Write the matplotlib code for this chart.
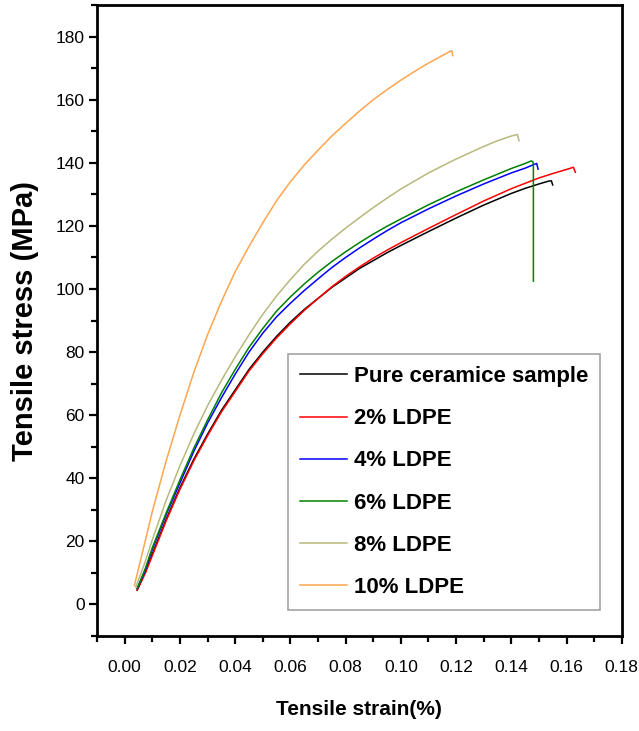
import matplotlib
matplotlib.use("Agg")
import matplotlib.pyplot as plt
from matplotlib.ticker import MultipleLocator

# %% data (strain, stress)
pure_x = [0.0045, 0.0075, 0.01, 0.015, 0.02, 0.025, 0.03, 0.035, 0.04, 0.045, 0.05, 0.055, 0.06, 0.065,
          0.07, 0.075, 0.08, 0.085, 0.09, 0.095, 0.10, 0.11, 0.12, 0.13, 0.14, 0.145, 0.15, 0.1535, 0.1545, 0.155]
pure_y = [4.5, 10.5, 16, 27, 37, 46, 54, 61.5, 68, 74.5, 80, 85, 89.5, 93.5,
          97, 100.5, 103.5, 106.5, 109, 111.5, 113.8, 118.2, 122.5, 126.6, 130.3, 131.9, 133.3, 134.2, 134.3, 133]

ldpe2_x = [0.0045, 0.0075, 0.01, 0.015, 0.02, 0.025, 0.03, 0.035, 0.04, 0.045, 0.05, 0.055, 0.06, 0.065,
           0.07, 0.075, 0.08, 0.085, 0.09, 0.095, 0.10, 0.11, 0.12, 0.13, 0.14, 0.15, 0.155, 0.16, 0.1625, 0.1632]
ldpe2_y = [4.5, 10, 15.5, 26.5, 36.5, 45.5, 53.5, 61, 67.5, 74, 79.5, 84.5, 89, 93.2,
           97, 100.7, 104, 107, 109.8, 112.3, 114.7, 119.2, 123.6, 127.9, 131.8, 135.2, 136.6, 137.9, 138.6, 137]

ldpe4_x = [0.0045, 0.0075, 0.01, 0.015, 0.02, 0.025, 0.03, 0.035, 0.04, 0.045, 0.05, 0.055, 0.06, 0.065,
           0.07, 0.075, 0.08, 0.085, 0.09, 0.095, 0.10, 0.11, 0.12, 0.13, 0.14, 0.145, 0.148, 0.1492, 0.1497]
ldpe4_y = [5, 11, 17.5, 28.5, 38.5, 48.5, 57.5, 65.5, 73, 80, 86, 91.2, 95.5, 99.5,
           103.2, 106.8, 110, 113, 115.8, 118.5, 121, 125.4, 129.5, 133.3, 136.8, 138.3, 139.4, 139.8, 138]

ldpe6_x = [0.0045, 0.0075, 0.01, 0.015, 0.02, 0.025, 0.03, 0.035, 0.04, 0.045, 0.05, 0.055, 0.06, 0.065,
           0.07, 0.075, 0.08, 0.085, 0.09, 0.095, 0.10, 0.11, 0.12, 0.13, 0.14, 0.145, 0.1472, 0.1478, 0.148, 0.148]
ldpe6_y = [5, 11.5, 18, 29, 39.5, 49.5, 58.5, 67, 74.5, 81.5, 87.5, 93, 97.5, 101.6,
           105.3, 108.7, 111.8, 114.7, 117.4, 119.9, 122.2, 126.7, 130.8, 134.6, 138.2, 139.8, 140.6, 140.4, 139.5, 102.5]

ldpe8_x = [0.004, 0.007, 0.01, 0.015, 0.02, 0.025, 0.03, 0.035, 0.04, 0.045, 0.05, 0.055, 0.06, 0.065,
           0.07, 0.075, 0.08, 0.085, 0.09, 0.095, 0.10, 0.11, 0.12, 0.13, 0.135, 0.14, 0.1422, 0.1428]
ldpe8_y = [5.5, 12.5, 20.5, 33, 44, 54, 63, 71, 78.5, 85.5, 92, 97.8, 103, 107.8,
           112, 115.8, 119.3, 122.6, 125.8, 128.8, 131.7, 136.8, 141.2, 145.2, 147, 148.5, 149, 147]

ldpe10_x = [0.0035, 0.006, 0.01, 0.015, 0.02, 0.025, 0.03, 0.035, 0.04, 0.045, 0.05, 0.055, 0.06, 0.065,
            0.07, 0.075, 0.08, 0.085, 0.09, 0.095, 0.10, 0.105, 0.11, 0.115, 0.118, 0.1185, 0.1188]
ldpe10_y = [6, 15, 29.5, 45.5, 60, 73.5, 85.5, 96, 105.5, 113.5, 121, 128, 134, 139.3,
            144, 148.5, 152.5, 156.4, 160, 163.2, 166.2, 169, 171.6, 174, 175.4, 175.5, 174]

labels = ["Pure ceramice sample", "2% LDPE", "4% LDPE", "6% LDPE", "8% LDPE", "10% LDPE"]
colors = ["black", "#ff0000", "#0000ff", "#008000", "#b8b87c", "#ffa54f"]
xticks = [0.00, 0.02, 0.04, 0.06, 0.08, 0.10, 0.12, 0.14, 0.16, 0.18]
xtick_labels = ["0.00", "0.02", "0.04", "0.06", "0.08", "0.10", "0.12", "0.14", "0.16", "0.18"]

# %% plot
plt.rcParams["font.family"] = ["Liberation Sans", "DejaVu Sans"]

fig = plt.figure(figsize=(6.39, 7.31), dpi=100)
ax = fig.add_axes([0.152, 0.130, 0.821, 0.863])

series = [(pure_x, pure_y), (ldpe2_x, ldpe2_y), (ldpe4_x, ldpe4_y),
          (ldpe6_x, ldpe6_y), (ldpe8_x, ldpe8_y), (ldpe10_x, ldpe10_y)]
for (x, y), lab, c in zip(series, labels, colors):
    ax.plot(x, y, color=c, lw=1.1, label=lab)

ax.set_xticks(xticks)
ax.set_xticklabels(xtick_labels)
ax.xaxis.set_minor_locator(MultipleLocator(0.01))
ax.yaxis.set_major_locator(MultipleLocator(20))
ax.yaxis.set_minor_locator(MultipleLocator(10))
ax.set_xlim(-0.01, 0.18)
ax.set_ylim(-10, 190)

for s in ax.spines.values():
    s.set_linewidth(2)
ax.tick_params(which="major", direction="out", length=6, width=1.6, labelsize=12.5)
ax.tick_params(which="minor", direction="out", length=4, width=1.6)
ax.tick_params(axis="x", which="major", pad=11)
ax.tick_params(axis="y", which="major", pad=3)

ax.set_xlabel("Tensile strain(%)", fontsize=15, fontweight="bold", labelpad=18)
ax.set_ylabel("Tensile stress (MPa)", fontsize=21, fontweight="bold", labelpad=12)

leg = ax.legend(loc="upper left", bbox_to_anchor=(0.364, 0.447), borderaxespad=0,
                prop={"weight": "bold", "size": 16}, frameon=True, fancybox=False,
                handlelength=2.1, handletextpad=0.3, labelspacing=0.95, borderpad=0.55)
leg.get_frame().set_edgecolor("#8c8c8c")
leg.get_frame().set_linewidth(1.2)

fig.savefig("out.png", dpi=100)
